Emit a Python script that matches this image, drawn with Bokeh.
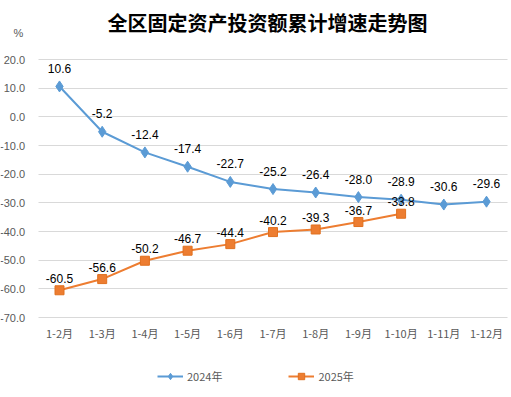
from bokeh.plotting import figure
from bokeh.models import Range1d, Label, Legend, LegendItem, ColumnDataSource, FixedTicker
from bokeh.embed import file_html
from bokeh.resources import INLINE
from bokeh.core.properties import value

months = ["1-2月", "1-3月", "1-4月", "1-5月", "1-6月", "1-7月", "1-8月", "1-9月", "1-10月", "1-11月", "1-12月"]
v2024 = [10.6, -5.2, -12.4, -17.4, -22.7, -25.2, -26.4, -28.0, -28.9, -30.6, -29.6]
v2025 = [-60.5, -56.6, -50.2, -46.7, -44.4, -40.2, -39.3, -36.7, -33.8]
yticks = [20, 10, 0, -10, -20, -30, -40, -50, -60, -70]
title_text = "全区固定资产投资额累计增速走势图"
unit_text = "%"
series_names = ["2024年", "2025年"]

BLUE = "#5B9BD5"
ORANGE = "#ED7D31"
GREY = "#595959"
CJK = "Noto Sans CJK SC"
NUM = "Liberation Sans"

W, H = 511, 397
# plot-area layout in pixels
px_left, px_cat = 59.0, 42.7          # centre of first category, category width
py_top, py_bot = 59.0, 317.0          # pixel rows of top / bottom tick
ymax, ymin = yticks[0], yticks[-1]
ppu = (py_bot - py_top) / (ymax - ymin)
n = len(months)

p = figure(width=W, height=H, output_backend="svg", toolbar_location=None,
           x_range=Range1d(-px_left / px_cat, (W - px_left) / px_cat),
           y_range=Range1d(ymin - (H - py_bot) / ppu, ymax + py_top / ppu))
p.min_border_left = p.min_border_right = p.min_border_top = p.min_border_bottom = 0
p.outline_line_color = None
p.background_fill_color = "white"
p.border_fill_color = "white"

idx = list(range(n))
p.xaxis.ticker = FixedTicker(ticks=idx)
p.xaxis.major_label_overrides = {i: m for i, m in enumerate(months)}
p.xaxis.fixed_location = ymin
p.yaxis.ticker = FixedTicker(ticks=yticks)
p.yaxis.major_label_overrides = {t: f"{t:.1f}" for t in yticks}
p.yaxis.fixed_location = -0.5

p.xgrid.grid_line_color = None
p.ygrid.grid_line_color = "#D9D9D9"
p.ygrid.grid_line_width = 1
p.ygrid.cross_bounds = (-0.5, n - 0.5)

for ax in (p.xaxis, p.yaxis):
    ax.axis_line_color = None
    ax.major_tick_line_color = None
    ax.minor_tick_line_color = None
    ax.major_label_text_color = GREY
    ax.major_label_text_font_size = "11px"
p.yaxis.major_label_standoff = 7
p.yaxis.major_label_text_font = NUM
p.xaxis.major_label_text_font = CJK
p.xaxis.major_label_standoff = 1

s24 = ColumnDataSource(dict(x=idx[:len(v2024)], y=v2024, t=[f"{v:.1f}" for v in v2024]))
s25 = ColumnDataSource(dict(x=idx[:len(v2025)], y=v2025, t=[f"{v:.1f}" for v in v2025]))

l24 = p.line("x", "y", source=s24, line_color=BLUE, line_width=2)
m24 = p.scatter("x", "y", source=s24, marker="diamond", size=11, fill_color=BLUE, line_color=BLUE)
l25 = p.line("x", "y", source=s25, line_color=ORANGE, line_width=2)
m25 = p.scatter("x", "y", source=s25, marker="square", size=9, fill_color=ORANGE, line_color="#E0701F")

p.text("x", "y", text="t", source=s24, y_offset=-18, text_align="center", text_baseline="middle",
       text_font=value(NUM), text_font_size="12px", text_color="black")
p.text("x", "y", text="t", source=s25, y_offset=-12, text_align="center", text_baseline="middle",
       text_font=value(NUM), text_font_size="12px", text_color="black")

p.add_layout(Label(x=267, y=H - 22, x_units="screen", y_units="screen", text=title_text,
                   text_font=CJK, text_font_style="bold", text_font_size="20px",
                   text_align="center", text_baseline="middle", text_color="black"))
p.add_layout(Label(x=13, y=H - 32, x_units="screen", y_units="screen", text=unit_text,
                   text_font=NUM, text_font_size="11px", text_color=GREY,
                   text_align="left", text_baseline="middle"))

legend = Legend(items=[LegendItem(label=series_names[0], renderers=[l24, m24]),
                       LegendItem(label=series_names[1], renderers=[l25, m25])],
                orientation="horizontal", location=(157, H - 384),
                label_text_font=CJK, label_text_font_size="11px", label_text_color=GREY,
                glyph_width=26, glyph_height=16, label_height=16, label_standoff=4,
                spacing=66, padding=0, margin=0, border_line_color=None,
                background_fill_alpha=0)
p.add_layout(legend, "center")

open("out.html", "w").write(file_html(p, INLINE))
